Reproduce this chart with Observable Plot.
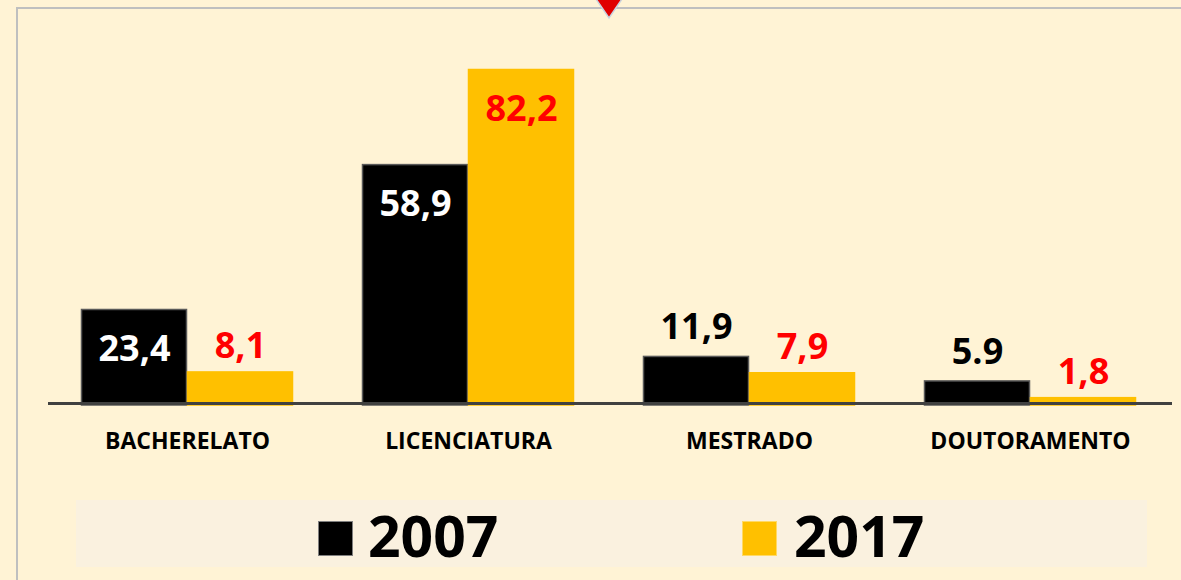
<!DOCTYPE html>
<html>
<head>
<meta charset="utf-8">
<script src="https://cdn.jsdelivr.net/npm/d3@7"></script>
<script src="https://cdn.jsdelivr.net/npm/@observablehq/plot@0.6"></script>
<style>
  html, body { margin: 0; padding: 0; background: #FFF3D5; }
  #wrap { position: relative; width: 1181px; height: 580px; overflow: hidden; background: #FFF3D5; font-family: "Open Sans", sans-serif; }
  #frame { position: absolute; left: 16px; top: 7px; right: -4px; bottom: -4px; border-left: 2px solid #BFBFBF; border-top: 2px solid #BFBFBF; }
  #chart { position: absolute; left: 0; top: 0; }
  #tri { position: absolute; left: 595px; top: 0; z-index: 5; }
  #legend { position: absolute; left: 76px; top: 500px; width: 1071px; height: 67px; background: #FAF1DF; }
  .sw { position: absolute; top: 21px; width: 33px; height: 33px; border: 1px solid #7f7f7f; }
  .lt { position: absolute; top: -5px; font-size: 57px; font-weight: 700; color: #000; line-height: 80px; }
</style>
</head>
<body>
<div id="wrap">
  <div id="frame"></div>
  <div id="chart"></div>
  <svg id="tri" width="28" height="20" viewBox="0 0 28 20"><polygon points="1,-1 27,-1 14,18" fill="#E00000" stroke="#C8D4E0" stroke-width="1.5"/></svg>
  <div id="legend"></div>
</div>
<script>
const categories = ["BACHERELATO", "LICENCIATURA", "MESTRADO", "DOUTORAMENTO"];
const years = ["2007", "2017"];
const values2007 = [23.4, 58.9, 11.9, 5.9];
const values2017 = [8.1, 82.2, 7.9, 1.8];
const labels2007 = ["23,4", "58,9", "11,9", "5.9"];
const labels2017 = ["8,1", "82,2", "7,9", "1,8"];
const colors = ["#000000", "#FFC000"];

const rows = [];
categories.forEach((c, i) => {
  rows.push({category: c, year: years[0], value: values2007[i], label: labels2007[i]});
  rows.push({category: c, year: years[1], value: values2017[i], label: labels2017[i]});
});

const fontFam = "'Open Sans', sans-serif";
const maxV = d3.max(rows, d => d.value);

const chart = Plot.plot({
  width: 1181,
  height: 480,
  marginLeft: 45,
  marginRight: 10,
  marginTop: 69.5,
  marginBottom: 75,
  style: {background: "transparent", fontFamily: fontFam},
  fx: {domain: categories, paddingInner: 0.247, paddingOuter: 0.1235, axis: null, label: null},
  x: {domain: years, padding: 0, axis: null},
  y: {domain: [0, maxV], axis: null},
  color: {domain: years, range: colors},
  marks: [
    Plot.barY(rows, {fx: "category", x: "year", y: "value", fill: "year", stroke: d => d.year === years[0] ? "#595959" : "#FFC000", strokeWidth: 1.5, insetLeft: 0.5, insetRight: 0.5}),
    Plot.ruleY([0], {stroke: "#404040", strokeWidth: 3, dy: -2, insetLeft: -33, insetRight: -36}),
    // 2007 labels
    Plot.text(rows.filter(d => d.year === years[0] && d.value > 20), {fx: "category", x: "year", y: "value", text: "label", dy: 39, fill: "#FFFFFF", fontSize: 36, fontWeight: 700}),
    Plot.text(rows.filter(d => d.year === years[0] && d.value <= 20), {fx: "category", x: "year", y: "value", text: "label", dy: -29, fill: "#000000", fontSize: 36, fontWeight: 700}),
    // 2017 labels
    Plot.text(rows.filter(d => d.year === years[1] && d.value > 50), {fx: "category", x: "year", y: "value", text: "label", dy: 39, fill: "#FF0000", fontSize: 36, fontWeight: 700}),
    Plot.text(rows.filter(d => d.year === years[1] && d.value <= 50), {fx: "category", x: "year", y: "value", text: "label", dy: -26, fill: "#FF0000", fontSize: 36, fontWeight: 700}),
    Plot.axisFx({anchor: "bottom", tickSize: 0, tickPadding: 27, fontSize: 23, fontWeight: 700, fill: "#000", label: null})
  ]
});
document.getElementById("chart").appendChild(chart);

// legend
const legend = document.getElementById("legend");
const swLeft = [242, 666];
const txLeft = [292, 718];
years.forEach((y, i) => {
  const sw = document.createElement("div");
  sw.className = "sw";
  sw.style.left = swLeft[i] + "px";
  sw.style.background = colors[i];
  if (i === 1) sw.style.borderColor = "#FFD966";
  legend.appendChild(sw);
  const t = document.createElement("div");
  t.className = "lt";
  t.style.left = txLeft[i] + "px";
  t.textContent = y;
  legend.appendChild(t);
});
</script>
</body>
</html>
